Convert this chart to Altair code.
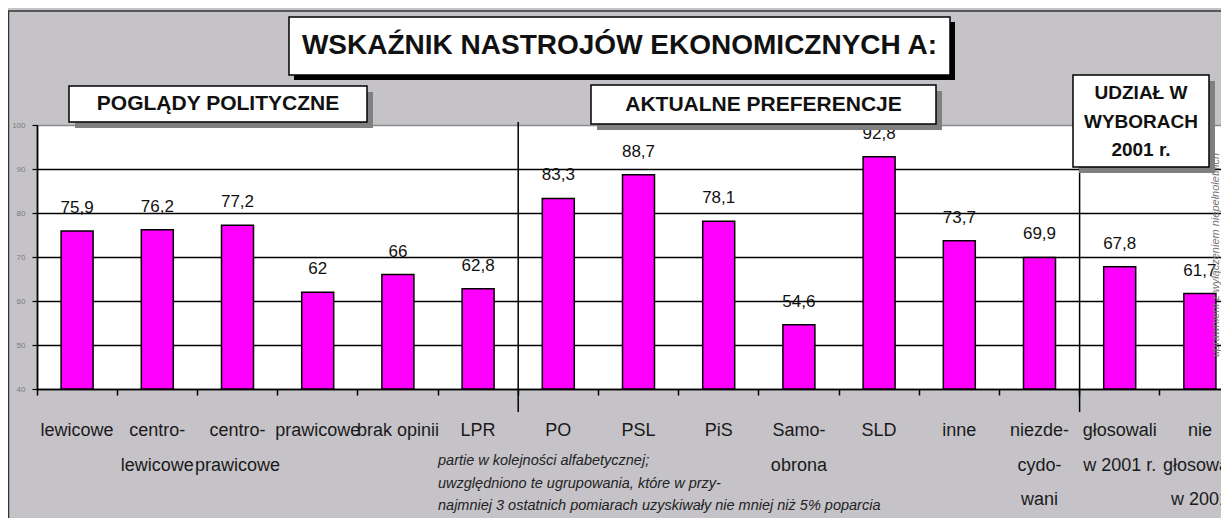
import altair as alt
import pandas as pd

# ---------------- data ----------------
categories = ["lewicowe", "centro-\nlewicowe", "centro-\nprawicowe", "prawicowe", "brak opinii", "LPR",
              "PO", "PSL", "PiS", "Samo-\nobrona", "SLD", "inne", "niezde-\ncydo-\nwani",
              "głosowali\nw 2001 r.", "nie\ngłosowali\nw 2001"]
values = [75.9, 76.2, 77.2, 62, 66, 62.8, 83.3, 88.7, 78.1, 54.6, 92.8, 73.7, 69.9, 67.8, 61.7]
value_labels = ["75,9", "76,2", "77,2", "62", "66", "62,8", "83,3", "88,7", "78,1", "54,6",
                "92,8", "73,7", "69,9", "67,8", "61,7"]
y_ticks = [40, 50, 60, 70, 80, 90, 100]
separators = ["PO", "głosowali\nw 2001 r."]

main_title = "WSKAŹNIK NASTROJÓW EKONOMICZNYCH A:"
group_titles = ["POGLĄDY POLITYCZNE", "AKTUALNE PREFERENCJE", "UDZIAŁ W\nWYBORACH\n2001 r."]
note_text = ("partie w kolejności alfabetycznej;\n"
             "uwzględniono te ugrupowania, które w przy-\n"
             "najmniej 3 ostatnich pomiarach uzyskiwały nie mniej niż 5% poparcia")
side_note = "uprawnieni z wyłączeniem niepełnoletnich"

FONT = "Liberation Sans"
BG = "#C5C3C8"
MAGENTA = "#FF00FF"

df = pd.DataFrame({"cat": categories, "value": values, "label": value_labels})
sep_df = pd.DataFrame({"cat": separators})
one = alt.Data(values=[{}])

x_scale = alt.Scale(domain=categories, rangeMin=0, rangeMax=1203, paddingInner=0, paddingOuter=0)
x_axis = alt.Axis(title=None, labels=False, bandPosition=0, tickSize=6, tickColor="black",
                  tickWidth=1.5, domainColor="black", domainWidth=1.5, grid=False)
X = alt.X("cat:N", sort=categories, scale=x_scale, axis=x_axis)

y_scale = alt.Scale(domain=[40, 100], nice=False, zero=False)
y_axis = alt.Axis(title=None, values=y_ticks, labelFontSize=8, labelColor="#7a7a7a", labelPadding=7,
                  tickSize=5, tickColor="black", tickWidth=1.2, domainColor="black", domainWidth=1.8,
                  grid=True, gridWidth=1.3,
                  gridColor={"condition": {"test": "datum.value === 100", "value": "#8a8a8a"},
                             "value": "black"})
Y = alt.Y("value:Q", scale=y_scale, axis=y_axis)

# ---------------- frame ----------------
frame = alt.Chart(one).mark_rect(fill=BG, fillOpacity=0, stroke="#333333", strokeWidth=1.5).encode(
    x=alt.value(-28.5), x2=alt.value(1400), y=alt.value(-114), y2=alt.value(700))

# ---------------- bars & labels ----------------
bars = alt.Chart(df).mark_bar(size=32, color=MAGENTA, stroke="black", strokeWidth=1.5).encode(
    x=X, y=Y, y2=alt.datum(40))

vals = alt.Chart(df).mark_text(font=FONT, fontSize=17, color="#111111", baseline="alphabetic",
                               dy=-18).encode(x=X, y=Y, text="label:N")

cat_labels = alt.Chart(df).mark_text(font=FONT, fontSize=18, color="#1a1a1a", baseline="top",
                                     lineBreak="\n", lineHeight=34.5).encode(
    x=X, y=alt.value(297), text="cat:N")

seps = alt.Chart(sep_df).mark_rule(color="black", strokeWidth=1.5).encode(
    x=alt.X("cat:N", sort=categories, scale=x_scale, axis=x_axis, bandPosition=0),
    y=alt.value(-3), y2=alt.value(287))

note = alt.Chart(one).mark_text(font=FONT, fontSize=14.5, fontStyle="italic", color="#222222",
                                align="left", baseline="top", lineBreak="\n", lineHeight=22.5).encode(
    x=alt.value(401), y=alt.value(329), text=alt.value(note_text))

side = alt.Chart(one).mark_text(font=FONT, fontSize=11, fontStyle="italic", color="#777777",
                                angle=270, align="center", baseline="middle").encode(
    x=alt.value(1179), y=alt.value(130), text=alt.value(side_note))


# ---------------- boxed titles ----------------
def box(x1, x2, y1, y2, off, shadow, text, size, tx, ty, lh=28.5, baseline="middle"):
    sh = alt.Chart(one).mark_rect(color=shadow).encode(
        x=alt.value(x1 + off), x2=alt.value(x2 + off), y=alt.value(y1 + off), y2=alt.value(y2 + off))
    bx = alt.Chart(one).mark_rect(fill="white", stroke="black", strokeWidth=1.5).encode(
        x=alt.value(x1), x2=alt.value(x2), y=alt.value(y1), y2=alt.value(y2))
    tx_ = alt.Chart(one).mark_text(font=FONT, fontSize=size, fontWeight="bold", color="#111111",
                                   align="center", baseline=baseline, lineBreak="\n",
                                   lineHeight=lh).encode(
        x=alt.value(tx), y=alt.value(ty), text=alt.value(text))
    return [sh, bx, tx_]


boxes = []
boxes += box(252, 913, -108, -50, 5, "black", main_title, 28, 582.5, -79)
boxes += box(32, 330, -39, -3, 6, "#808080", group_titles[0], 21, 181, -21)
boxes += box(554, 899, -40, -1, 6, "#808080", group_titles[1], 21, 726.5, -20.5)
boxes += box(1036, 1172, -50, 42, 6, "#808080", group_titles[2], 19, 1104, -41, lh=28.5,
             baseline="top")

chart = alt.layer(frame, bars, vals, cat_labels, seps, note, side, *boxes).properties(
    width=1184, height=264,
    padding={"left": 29, "top": 117, "right": 0, "bottom": 129},
    autosize=alt.AutoSizeParams(type="none"),
).configure(background=BG).configure_view(fill="white", stroke="transparent")

chart.save("out.html", embed_options={"renderer": "svg", "actions": False})
